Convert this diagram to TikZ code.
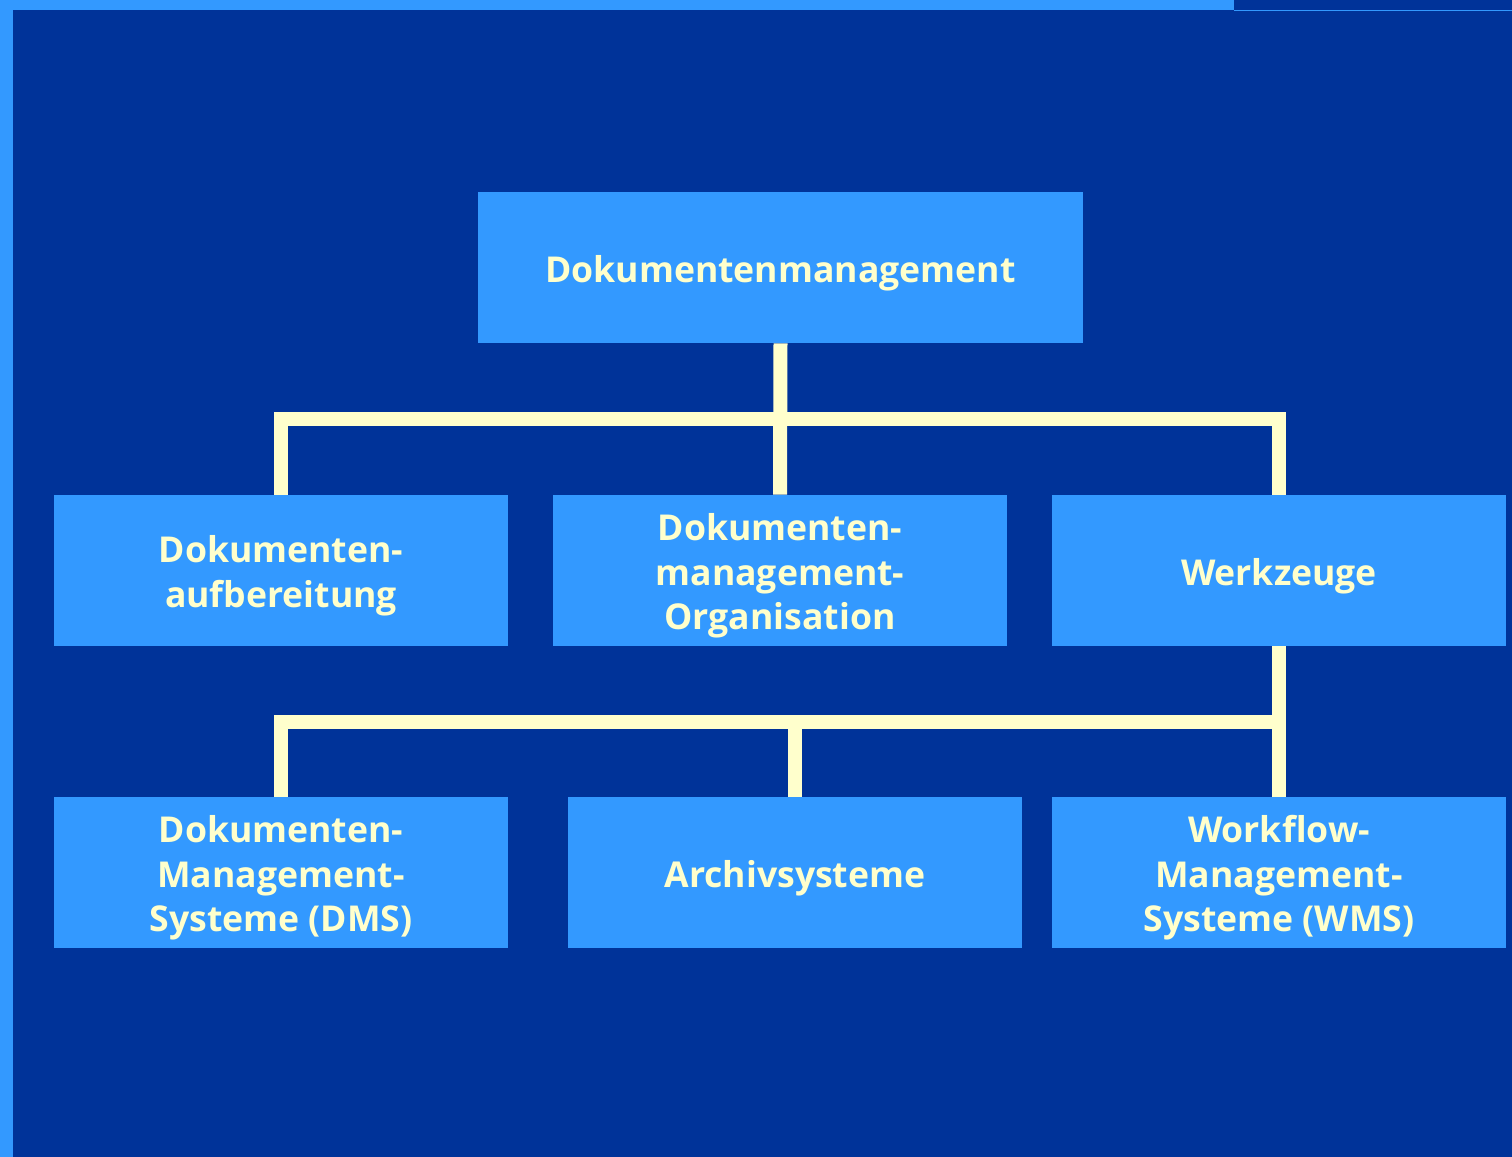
\documentclass[tikz,border=0pt]{standalone}
\usepackage{fontspec}
\setmainfont{Open Sans}[BoldFont={Open Sans Bold}]
\definecolor{bgblue}{HTML}{003399}
\definecolor{boxblue}{HTML}{3399FF}
\definecolor{txtyellow}{HTML}{FFFFCC}
\begin{document}
\begin{tikzpicture}[x=0.5pt,y=-0.5pt,
  box/.style={fill=boxblue,draw=none,minimum width=227pt,minimum height=75.5pt,inner sep=0pt},
  txt/.style={inner sep=0pt,align=center,text=txtyellow,font=\fontsize{17.8}{22.3}\selectfont\bfseries},
  conn/.style={draw=txtyellow,line width=7pt}]
\useasboundingbox (0,0) rectangle (1512,1157);
\fill[bgblue] (0,0) rectangle (1512,1157);
\fill[boxblue] (0,0) rectangle (13,1157);
\fill[boxblue] (0,0) rectangle (1234,10);
\fill[boxblue] (1234,9.5) rectangle (1512,11);
% boxes
\node[box,minimum width=302.5pt] (top) at (780.5,267.5) {};
\node[box] (a) at (281,570.5) {};
\node[box] (b) at (780,570.5) {};
\node[box] (c) at (1279,570.5) {};
\node[box] (d) at (281,872.5) {};
\node[box] (e) at (795,872.5) {};
\node[box] (f) at (1279,872.5) {};
% texts
\node[txt] (ttop) at ([yshift=-2.75pt]top.center) {Dokumentenmanagement};
\node[txt] (ta) at ([yshift=-2.75pt]a.center) {Dokumenten-\\aufbereitung};
\node[txt] (tb) at ([yshift=-2.75pt]b.center) {Dokumenten-\\management-\\Organisation};
\node[txt] (tc) at ([yshift=-2.75pt]c.center) {Werkzeuge};
\node[txt] (td) at ([yshift=-2.75pt]d.center) {Dokumenten-\\Management-\\Systeme (DMS)};
\node[txt] (te) at ([yshift=-2.75pt]e.center) {Archivsysteme};
\node[txt] (tf) at ([yshift=-2.75pt]f.center) {Workflow-\\Management-\\Systeme (WMS)};
% connectors
\coordinate (j1) at (780,419);
\coordinate (j2) at (1279,722);
\draw[conn] (top.south) -- (b.north);
\draw[conn] (a.north) |- (j1) -| (c.north);
\draw[conn] (c.south) -- (f.north);
\draw[conn] (d.north) |- (j2);
\draw[conn] (e.north) -- (e.north |- j2);
\end{tikzpicture}
\end{document}
